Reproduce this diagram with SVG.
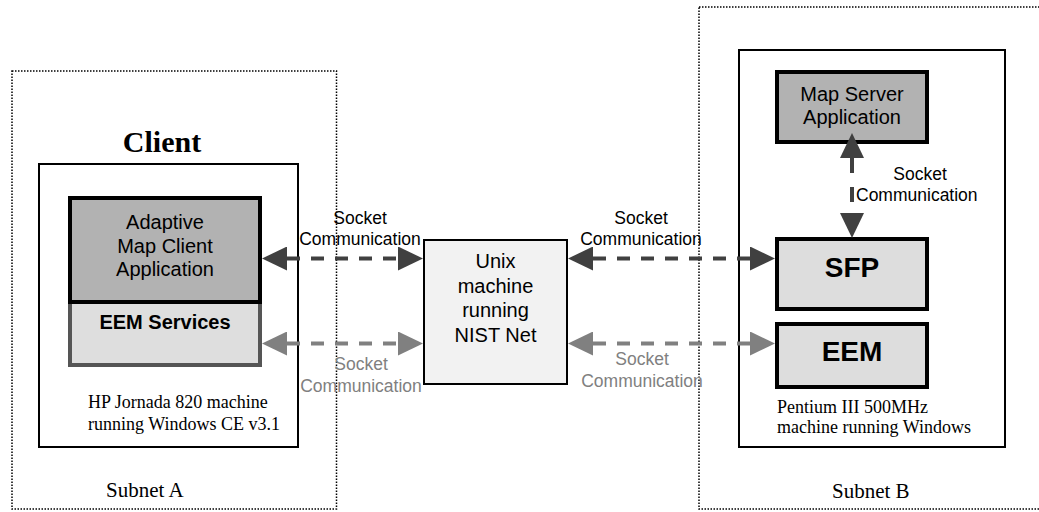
<svg xmlns="http://www.w3.org/2000/svg" width="1039" height="512" viewBox="0 0 1039 512">
<style>
.sub{fill:none;stroke:#000;stroke-width:1.5;stroke-dasharray:1.5 1.5}
.host{fill:#fff;stroke:#000;stroke-width:2}
.sans{font-family:"Liberation Sans",Arial,sans-serif}
.serif{font-family:"Liberation Serif","Times New Roman",serif}
.lbl{font-size:20px;fill:#000;text-anchor:middle}
.big{font-size:28px;font-weight:bold;text-anchor:middle}
.note{font-size:18px;fill:#000}
.sock{font-size:17.5px;text-anchor:middle}
.start{text-anchor:start}
.dk{fill:#000}
.lt{fill:#808080}
.ln{fill:none;stroke-width:4;stroke-dasharray:13 11}
</style>
<defs>
<marker id="ahD" markerUnits="userSpaceOnUse" markerWidth="25" markerHeight="24" viewBox="0 0 25 24" refX="0" refY="12" orient="auto-start-reverse"><path d="M0,0 L25,12 L0,24 z" fill="#404040"/></marker>
<marker id="ahL" markerUnits="userSpaceOnUse" markerWidth="25" markerHeight="24" viewBox="0 0 25 24" refX="0" refY="12" orient="auto-start-reverse"><path d="M0,0 L25,12 L0,24 z" fill="#808080"/></marker>
</defs>
<rect x="0" y="0" width="1039" height="512" fill="#fff"/>

<g id="subnetA">
<rect class="sub" x="12" y="71" width="324.5" height="438"/>
<text class="serif" x="106" y="497" font-size="21">Subnet A</text>
</g>
<g id="subnetB">
<rect class="sub" x="699" y="7" width="345" height="502"/>
<text class="serif" x="832" y="498" font-size="21">Subnet B</text>
</g>

<g id="client">
<text class="serif" x="162" y="152" font-size="30" font-weight="bold" text-anchor="middle">Client</text>
<rect class="host" x="39" y="164" width="259" height="283"/>
<text class="serif note" x="88" y="408">HP Jornada 820 machine</text>
<text class="serif note" x="88" y="430">running Windows CE v3.1</text>
</g>
<g id="eemServices">
<rect x="70" y="302" width="190" height="63" fill="#dedede" stroke="#555" stroke-width="4"/>
<text class="sans lbl" x="165" y="329" font-size="21" font-weight="bold">EEM Services</text>
</g>
<g id="mapClient">
<rect x="70" y="198" width="190" height="104" fill="#b2b2b2" stroke="#000" stroke-width="4"/>
<text class="sans lbl" x="165" y="229">Adaptive</text>
<text class="sans lbl" x="165" y="252.5">Map Client</text>
<text class="sans lbl" x="165" y="276">Application</text>
</g>

<g id="unix">
<rect x="424" y="240" width="143" height="144" fill="#f2f2f2" stroke="#000" stroke-width="2"/>
<text class="sans lbl" x="495.5" y="268">Unix</text>
<text class="sans lbl" x="495.5" y="292.5">machine</text>
<text class="sans lbl" x="495.5" y="317">running</text>
<text class="sans lbl" x="495.5" y="341.5">NIST Net</text>
</g>

<g id="server">
<rect class="host" x="739" y="50" width="266" height="397"/>
<text class="serif note" x="777" y="413">Pentium III 500MHz</text>
<text class="serif note" x="777" y="433">machine running Windows</text>
</g>
<g id="mapServer">
<rect x="777" y="72" width="150" height="70" fill="#b2b2b2" stroke="#000" stroke-width="4"/>
<text class="sans lbl" x="852" y="101">Map Server</text>
<text class="sans lbl" x="852" y="124">Application</text>
</g>
<g id="sfp">
<rect x="777" y="239" width="150" height="70" fill="#dddddd" stroke="#000" stroke-width="4"/>
<text class="sans big" x="852" y="277">SFP</text>
</g>
<g id="eem">
<rect x="777" y="324" width="150" height="63" fill="#dddddd" stroke="#000" stroke-width="4"/>
<text class="sans big" x="852" y="361">EEM</text>
</g>

<g id="connectors">
<line class="ln" x1="287" y1="258.5" x2="398" y2="258.5" stroke="#404040" marker-start="url(#ahD)" marker-end="url(#ahD)"/>
<line class="ln" x1="287" y1="343.5" x2="398" y2="343.5" stroke="#808080" marker-start="url(#ahL)" marker-end="url(#ahL)"/>
<line class="ln" x1="593" y1="258.5" x2="750" y2="258.5" stroke="#404040" marker-start="url(#ahD)" marker-end="url(#ahD)"/>
<line class="ln" x1="593" y1="343.5" x2="750" y2="343.5" stroke="#808080" marker-start="url(#ahL)" marker-end="url(#ahL)"/>
<line x1="852" y1="158" x2="852" y2="213" stroke="#404040" stroke-width="4" stroke-dasharray="15 14" marker-start="url(#ahD)" marker-end="url(#ahD)"/>
<text class="sans sock dk" x="360" y="224">Socket</text>
<text class="sans sock dk" x="360" y="245">Communication</text>
<text class="sans sock dk" x="641" y="224">Socket</text>
<text class="sans sock dk" x="641" y="245">Communication</text>
<text class="sans sock lt" x="361" y="369.5">Socket</text>
<text class="sans sock lt" x="361" y="392">Communication</text>
<text class="sans sock lt" x="642" y="365">Socket</text>
<text class="sans sock lt" x="642" y="387">Communication</text>
<text class="sans sock dk" x="920" y="180">Socket</text>
<text class="sans sock dk start" x="856" y="201">Communication</text>
</g>
</svg>
